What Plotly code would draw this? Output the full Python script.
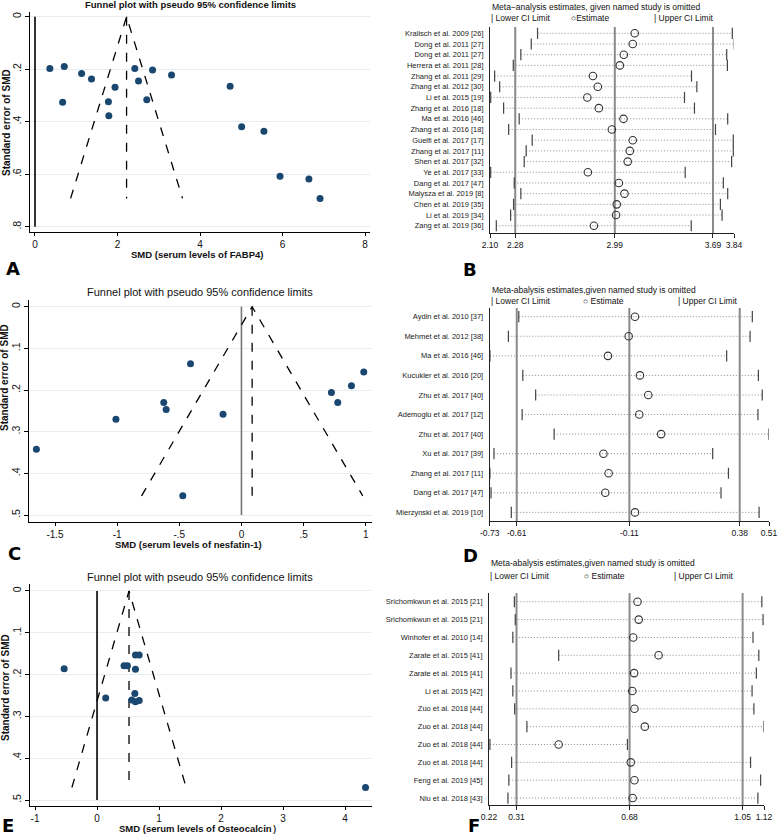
import plotly.graph_objects as go

W, H = 778, 838

# ---------------- Panel A: funnel FABP4 ----------------
a_smd = [0.36, 0.71, 1.13, 1.37, 0.67, 1.94, 1.78, 1.79, 2.42, 2.51, 2.85, 2.71, 3.31,
         4.73, 5.01, 5.55, 5.94, 6.64, 6.91]
a_se = [0.197, 0.190, 0.216, 0.237, 0.326, 0.269, 0.324, 0.377, 0.197, 0.245, 0.203, 0.316,
        0.222, 0.265, 0.419, 0.436, 0.608, 0.618, 0.692]
a_pooled = 2.22
a_xticks = [0, 2, 4, 6, 8]
a_xticktext = ["0", "2", "4", "6", "8"]
a_yticks = [0, 0.2, 0.4, 0.6, 0.8]
a_yticktext = ["0", ".2", ".4", ".6", ".8"]

# ---------------- Panel C: funnel nesfatin-1 ----------------
c_smd = [-1.65, -1.01, -0.625, -0.606, -0.41, -0.472, -0.148, 0.724, 0.775, 0.885, 0.984]
c_se = [0.342, 0.270, 0.230, 0.247, 0.137, 0.454, 0.258, 0.206, 0.230, 0.190, 0.157]
c_pooled = 0.086
c_xticks = [-1.5, -1, -0.5, 0, 0.5, 1]
c_xticktext = ["-1.5", "-1", "-.5", "0", ".5", "1"]
c_yticks = [0, 0.1, 0.2, 0.3, 0.4, 0.5]
c_yticktext = ["0", ".1", ".2", ".3", ".4", ".5"]

# ---------------- Panel E: funnel Osteocalcin ----------------
e_smd = [-0.53, 0.14, 0.435, 0.49, 0.62, 0.68, 0.62, 0.61, 0.56, 0.62, 0.68, 4.33]
e_se = [0.186, 0.256, 0.179, 0.179, 0.153, 0.153, 0.187, 0.245, 0.261, 0.265, 0.262, 0.470]
e_pooled = 0.516
e_xticks = [-1, 0, 1, 2, 3, 4]
e_xticktext = ["-1", "0", "1", "2", "3", "4"]
e_yticks = [0, 0.1, 0.2, 0.3, 0.4, 0.5]
e_yticktext = ["0", ".1", ".2", ".3", ".4", ".5"]

# ---------------- Panel B: sensitivity FABP4 ----------------
b_studies = ["Kralisch et al. 2009 [26]", "Dong et al. 2011 [27]", "Dong et al. 2011 [27]",
             "Herrera et al. 2011 [28]", "Zhang et al. 2011 [29]", "Zhang et al. 2012 [30]",
             "Li et al. 2015 [19]", "Zhang et al. 2016 [18]", "Ma et al. 2016 [46]",
             "Zhang et al. 2016 [18]", "Guelfi et al. 2017 [17]", "Zhang et al. 2017 [11]",
             "Shen et al. 2017 [32]", "Ye et al. 2017 [33]", "Dang et al. 2017 [47]",
             "Malysza et al. 2019 [8]", "Chen et al. 2019 [35]", "Li et al. 2019 [34]",
             "Zang et al. 2019 [36]"]
b_lower = [2.439, 2.394, 2.320, 2.266, 2.133, 2.169, 2.105, 2.197, 2.308, 2.233, 2.401, 2.358,
           2.344, 2.105, 2.273, 2.320, 2.268, 2.247, 2.145]
b_est = [3.132, 3.118, 3.054, 3.026, 2.834, 2.869, 2.794, 2.876, 3.052, 2.969, 3.118, 3.097,
         3.082, 2.798, 3.019, 3.059, 3.004, 2.999, 2.841]
b_upper = [3.828, 3.842, 3.788, 3.793, 3.537, 3.575, 3.487, 3.558, 3.795, 3.708, 3.835, 3.835,
           3.823, 3.492, 3.764, 3.795, 3.743, 3.755, 3.535]
b_ticks = [2.10, 2.28, 2.99, 3.69, 3.84]
b_ticktext = ["2.10", "2.28", "2.99", "3.69", "3.84"]
b_ref = [2.28, 2.99, 3.69]

# ---------------- Panel D: sensitivity nesfatin-1 ----------------
d_studies = ["Aydin et al. 2010 [37]", "Mehmet et al. 2012 [38]", "Ma et al. 2016 [46]",
             "Kucukler et al. 2016 [20]", "Zhu et al. 2017 [40]", "Ademoglu et al. 2017 [12]",
             "Zhu et al. 2017 [40]", "Xu et al. 2017 [39]", "Zhang et al. 2017 [11]",
             "Dang et al. 2017 [47]", "Mierzynski et al. 2019 [10]"]
d_lower = [-0.601, -0.647, -0.729, -0.583, -0.526, -0.586, -0.444, -0.711, -0.729, -0.724, -0.634]
d_est = [-0.085, -0.113, -0.205, -0.063, -0.026, -0.066, 0.031, -0.225, -0.202, -0.217, -0.085]
d_upper = [0.436, 0.426, 0.322, 0.463, 0.480, 0.461, 0.510, 0.260, 0.330, 0.297, 0.466]
d_ticks = [-0.73, -0.61, -0.11, 0.38, 0.51]
d_ticktext = ["-0.73", "-0.61", "-0.11", "0.38", "0.51"]
d_ref = [-0.61, -0.11, 0.38]

# ---------------- Panel F: sensitivity Osteocalcin ----------------
f_studies = ["Srichomkwun et al. 2015 [21]", "Srichomkwun et al. 2015 [21]",
             "Winhofer et al. 2010 [14]", "Zarate et al. 2015 [41]", "Zarate et al. 2015 [41]",
             "Li et al. 2015 [42]", "Zuo et al. 2018 [44]", "Zuo et al. 2018 [44]",
             "Zuo et al. 2018 [44]", "Zuo et al. 2018 [44]", "Feng et al. 2019 [45]",
             "Niu et al. 2018 [43]"]
f_lower = [0.303, 0.306, 0.298, 0.448, 0.292, 0.298, 0.304, 0.344, 0.223, 0.294, 0.285, 0.282]
f_est = [0.706, 0.710, 0.692, 0.775, 0.695, 0.689, 0.696, 0.730, 0.448, 0.684, 0.696, 0.690]
f_upper = [1.113, 1.117, 1.084, 1.103, 1.095, 1.081, 1.087, 1.120, 0.673, 1.076, 1.109, 1.100]
f_ticks = [0.22, 0.31, 0.68, 1.05, 1.12]
f_ticktext = ["0.22", "0.31", "0.68", "1.05", "1.12"]
f_ref = [0.31, 0.68, 1.05]

FONT = "Arial, Liberation Sans, Helvetica, sans-serif"
NAVY = "#1a476f"
GRID = "#e6eef1"


def dx(px):
    return px / W


def dy(py):
    return 1 - py / H


fig = go.Figure()
annotations = []
shapes = []


def letter_ann(letter, pos, anchor="middle"):
    annotations.append(dict(text=f"<b>{letter}</b>", x=dx(pos[0]), y=dy(pos[1]),
                            xref="paper", yref="paper", showarrow=False, xanchor="center",
                            yanchor=anchor, font=dict(size=18, color="black",
                                                      family="DejaVu Sans, Arial")))


def funnel(n, smd, se, pooled, xr, yr, xdom, ydom, xticks, xtt, yticks, ytt, zero_color,
           ymax_line, title, title_bold, title_pos, xtitle, xtitle_pos, ytitle_pos, letter,
           letter_pos, letter_anchor="middle"):
    xa = "x" if n == 1 else f"x{n}"
    ya = "y" if n == 1 else f"y{n}"
    maxse = max(se)
    fig.add_trace(go.Scatter(x=[0, 0], y=[0, ymax_line], mode="lines",
                             line=dict(color=zero_color, width=1.6), xaxis=xa, yaxis=ya,
                             showlegend=False, hoverinfo="skip"))
    fig.add_trace(go.Scatter(x=[pooled - 1.96 * maxse, pooled, pooled + 1.96 * maxse],
                             y=[maxse, 0, maxse], mode="lines",
                             line=dict(color="black", width=1.3, dash="dash"),
                             xaxis=xa, yaxis=ya, showlegend=False, hoverinfo="skip"))
    fig.add_trace(go.Scatter(x=[pooled, pooled], y=[0, maxse], mode="lines",
                             line=dict(color="black", width=1.3, dash="dash"),
                             xaxis=xa, yaxis=ya, showlegend=False, hoverinfo="skip"))
    fig.add_trace(go.Scatter(x=smd, y=se, mode="markers",
                             marker=dict(color=NAVY, size=7), xaxis=xa, yaxis=ya,
                             showlegend=False))
    k = "" if n == 1 else str(n)
    fig.layout["xaxis" + k] = dict(domain=[dx(xdom[0]), dx(xdom[1])], range=xr, anchor=ya,
                                   automargin=False,
                                   showgrid=False, zeroline=False, showline=True,
                                   linecolor="black", linewidth=1, ticks="outside", ticklen=3,
                                   tickcolor="black", tickvals=xticks, ticktext=xtt,
                                   tickfont=dict(size=10, color="#111", family=FONT))
    fig.layout["yaxis" + k] = dict(domain=[dy(ydom[1]), dy(ydom[0])], range=yr, anchor=xa,
                                   automargin=False,
                                   showgrid=True, gridcolor=GRID, gridwidth=1, zeroline=False,
                                   showline=True, linecolor="black", linewidth=1,
                                   ticks="outside", ticklen=4, tickcolor="black",
                                   tickvals=yticks, ticktext=ytt, tickangle=-90,
                                   tickfont=dict(size=10.5, color="#111", family=FONT))
    t = f"<b>{title}</b>" if title_bold else title
    annotations.append(dict(text=t, x=dx(title_pos[0]), y=dy(title_pos[1]), xref="paper",
                            yref="paper", showarrow=False, xanchor="center", yanchor="middle",
                            font=dict(size=9.5 if title_bold else 11, color="#111",
                                      family=FONT)))
    annotations.append(dict(text=f"<b>{xtitle}</b>", x=dx(xtitle_pos[0]), y=dy(xtitle_pos[1]),
                            xref="paper", yref="paper", showarrow=False, xanchor="center",
                            yanchor="middle", font=dict(size=9.5, color="#111", family=FONT)))
    annotations.append(dict(text="<b>Standard error of SMD</b>", x=dx(ytitle_pos[0]),
                            y=dy(ytitle_pos[1]), xref="paper", yref="paper", showarrow=False,
                            textangle=-90, xanchor="center", yanchor="middle",
                            font=dict(size=10, color="#111", family=FONT)))
    letter_ann(letter, letter_pos, letter_anchor)


def forest(n, studies, lower, est, upper, ticks, ticktext, refs, xr, xdom, ydom, yr, title,
           title_y, legend_y, legend_xs, est_label, letter, letter_pos, letter_anchor="middle"):
    xa = f"x{n}"
    ya = f"y{n}"
    rows = list(range(1, len(studies) + 1))
    px_top, px_bot = ydom
    for r in refs:
        shapes.append(dict(type="line", xref=xa, yref=f"{ya} domain", x0=r, x1=r, y0=0, y1=1,
                           line=dict(color="#8a8a8a", width=2), layer="below"))
    xs, ys = [], []
    for i, r in enumerate(rows):
        xs += [lower[i], upper[i], None]
        ys += [r, r, None]
    fig.add_trace(go.Scatter(x=xs, y=ys, mode="lines",
                             line=dict(color="#8c8c8c", width=1, dash="1px,2px"),
                             xaxis=xa, yaxis=ya, showlegend=False, hoverinfo="skip"))
    fig.add_trace(go.Scatter(x=lower + upper, y=rows + rows, mode="markers",
                             marker=dict(symbol="line-ns", size=8, color="#444",
                                         line=dict(color="#444", width=1.2)),
                             xaxis=xa, yaxis=ya, showlegend=False, hoverinfo="skip"))
    fig.add_trace(go.Scatter(x=est, y=rows, mode="markers",
                             marker=dict(symbol="circle-open", size=7.5, color="#333",
                                         line=dict(color="#333", width=1.1)),
                             xaxis=xa, yaxis=ya, showlegend=False))
    fig.layout[f"xaxis{n}"] = dict(domain=[dx(xdom[0]), dx(xdom[1])], range=xr, anchor=ya,
                                   automargin=False,
                                   showgrid=False, zeroline=False, showline=True,
                                   linecolor="#222", linewidth=1, ticks="outside", ticklen=4,
                                   tickcolor="#222", tickvals=ticks, ticktext=ticktext,
                                   tickfont=dict(size=8.5, color="#111", family=FONT))
    fig.layout[f"yaxis{n}"] = dict(domain=[dy(px_bot), dy(px_top)], anchor=xa, range=yr,
                                   automargin=False,
                                   showgrid=False, zeroline=False, showline=True,
                                   linecolor="#222", linewidth=1, ticks="",
                                   tickvals=rows, ticktext=studies, ticklabelstandoff=4,
                                   tickfont=dict(size=7.5, color="#222", family=FONT))
    annotations.append(dict(text=title, x=dx(xdom[0]), y=dy(title_y), xref="paper",
                            yref="paper", showarrow=False, xanchor="left", yanchor="middle",
                            font=dict(size=8.5, color="#111", family=FONT)))
    labels = ["| Lower CI Limit", est_label, "| Upper CI Limit"]
    for lx, lab in zip(legend_xs, labels):
        annotations.append(dict(text=lab, x=dx(lx), y=dy(legend_y), xref="paper",
                                yref="paper", showarrow=False, xanchor="left",
                                yanchor="middle",
                                font=dict(size=8.5, color="#111", family=FONT)))
    letter_ann(letter, letter_pos, letter_anchor)


funnel(1, a_smd, a_se, a_pooled, [-0.121, 8.121], [0.820, -0.019], (30, 370), (11.7, 232),
       a_xticks, a_xticktext, a_yticks, a_yticktext, "black", 0.8,
       "Funnel plot with pseudo 95% confidence limits", True, (190, 5),
       "SMD (serum levels of FABP4)", (197, 255), (6, 123), "A", (13, 269))

funnel(3, c_smd, c_se, c_pooled, [-1.707, 1.048], [0.516, -0.016], (29.3, 371.7), (300, 521.7),
       c_xticks, c_xticktext, c_yticks, c_yticktext, "#777777", 0.5,
       "Funnel plot with pseudo 95% confidence limits", False, (200, 292),
       "SMD (serum levels of nesfatin-1)", (188, 544), (5, 378), "C", (14, 553))

funnel(5, e_smd, e_se, e_pooled, [-1.081, 4.43], [0.5136, -0.0167], (30, 371.7), (584, 805.7),
       e_xticks, e_xticktext, e_yticks, e_yticktext, "black", 0.5,
       "Funnel plot with pseudo 95% confidence limits", False, (200, 577),
       "SMD (serum levels of Osteocalcin）", (200, 828), (5, 688), "E", (8, 838), "bottom")

forest(2, b_studies, b_lower, b_est, b_upper, b_ticks, b_ticktext, b_ref, [2.10, 3.84],
       (490, 734), (27, 233), [19.68, 0.41],
       "Meta\u2212analysis estimates, given named study is omitted",
       7, 18, (489, 569, 652), "\u25CBEstimate", "B", (470, 270))

forest(4, d_studies, d_lower, d_est, d_upper, d_ticks, d_ticktext, d_ref, [-0.73, 0.51],
       (489.7, 769), (308, 521), [11.44, 0.555],
       "Meta-abalysis estimates,given named study is omitted",
       290, 301, (489, 581, 676), "\u25CB Estimate", "D", (470, 555))

forest(6, f_studies, f_lower, f_est, f_upper, f_ticks, f_ticktext, f_ref, [0.22, 1.12],
       (489, 764), (593, 805), [12.39, 0.51],
       "Meta-abalysis estimates,given named study is omitted",
       563, 576, (488, 582, 672), "\u25CB Estimate", "F", (474, 838), "bottom")

fig.update_layout(template="none", width=W, height=H, margin=dict(l=0, r=0, t=0, b=0),
                  paper_bgcolor="white", plot_bgcolor="white", showlegend=False,
                  annotations=annotations, shapes=shapes,
                  font=dict(family=FONT, color="#111"))

fig.write_html("out.html", config={"displayModeBar": False},
               post_script="document.body.style.margin='0';document.body.style.overflow='hidden';")
